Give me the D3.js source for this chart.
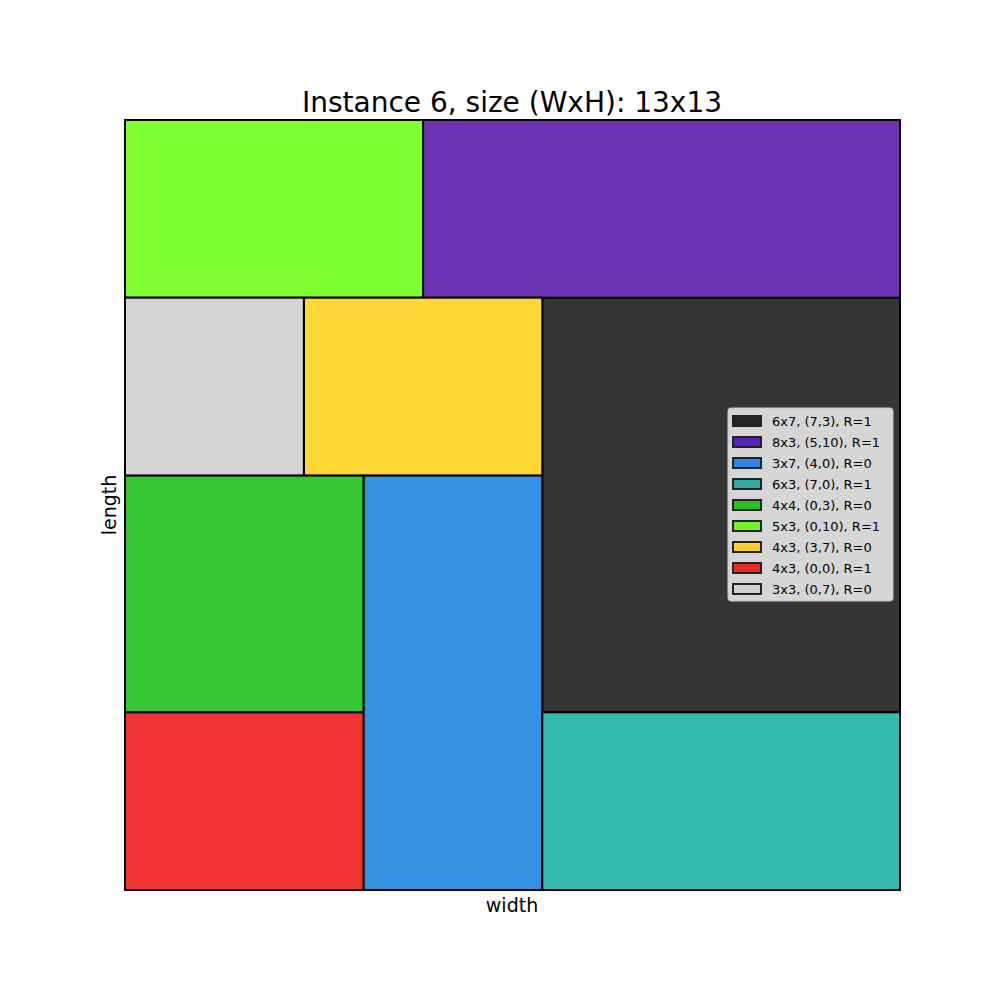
<!DOCTYPE html>
<html lang="en">
<head>
<meta charset="UTF-8">
<title>Instance 6</title>
<script src="https://d3js.org/d3.v7.min.js"></script>
<style>
  body { margin: 0; background: #fff; font-family: "DejaVu Sans", sans-serif; }
</style>
</head>
<body>
<div id="chart"></div>
<script>
const labels = ["6x7, (7,3), R=1", "8x3, (5,10), R=1", "3x7, (4,0), R=0", "6x3, (7,0), R=1",
  "4x4, (0,3), R=0", "5x3, (0,10), R=1", "4x3, (3,7), R=0", "4x3, (0,0), R=1", "3x3, (0,7), R=0"];
const xs = [7, 5, 4, 7, 0, 0, 3, 0, 0];
const ys = [3, 10, 0, 0, 3, 10, 7, 0, 7];
const ws = [6, 8, 3, 6, 4, 5, 4, 4, 3];
const hs = [7, 3, 7, 3, 4, 3, 3, 3, 3];
const fills = ["#353535", "#6b33b3", "#3592e3", "#34bbae", "#36c832", "#7dff32", "#ffd635", "#f23434", "#d5d5d5"];
const swatches = ["#262626", "#5a22b8", "#2a86e0", "#29ada0", "#2bbf27", "#6ff52a", "#fccf2b", "#ea2a2a", "#cfcfcf"];

const svg = d3.select("#chart").append("svg").attr("width", 1000).attr("height", 1000);
const x = d3.scaleLinear().domain([0, 13]).range([125, 900]);
const y = d3.scaleLinear().domain([0, 13]).range([890, 120]);

svg.selectAll("rect.piece").data(d3.range(labels.length)).enter().append("rect")
  .attr("class", "piece")
  .attr("x", i => x(xs[i])).attr("y", i => y(ys[i] + hs[i]))
  .attr("width", i => x(xs[i] + ws[i]) - x(xs[i]))
  .attr("height", i => y(ys[i]) - y(ys[i] + hs[i]))
  .attr("fill", i => fills[i]).attr("stroke", "#000").attr("stroke-width", 2);

svg.append("rect").attr("x", 125).attr("y", 120).attr("width", 775).attr("height", 770)
  .attr("fill", "none").attr("stroke", "#000").attr("stroke-width", 1);

svg.append("text").attr("x", 512).attr("y", 112).attr("text-anchor", "middle")
  .attr("font-size", 28).text("Instance 6, size (WxH): 13x13");
svg.append("text").attr("x", 512).attr("y", 912).attr("text-anchor", "middle")
  .attr("font-size", 19).text("width");
svg.append("text").attr("transform", "translate(116,505) rotate(-90)").attr("text-anchor", "middle")
  .attr("font-size", 19).text("length");

// legend
const lg = svg.append("g").attr("transform", "translate(728,408)");
lg.append("rect").attr("width", 165).attr("height", 193).attr("rx", 3)
  .attr("fill", "#d6d6d6").attr("stroke", "#c8c8c8");
const items = lg.selectAll("g.item").data(d3.range(labels.length)).enter().append("g")
  .attr("transform", i => `translate(0,${13 + i * 21})`);
items.append("rect").attr("x", 5).attr("y", -5).attr("width", 28).attr("height", 10)
  .attr("fill", i => swatches[i]).attr("stroke", "#222").attr("stroke-width", 2);
items.append("text").attr("x", 44).attr("y", 4.5).attr("font-size", 13).text(i => labels[i]);
</script>
</body>
</html>
